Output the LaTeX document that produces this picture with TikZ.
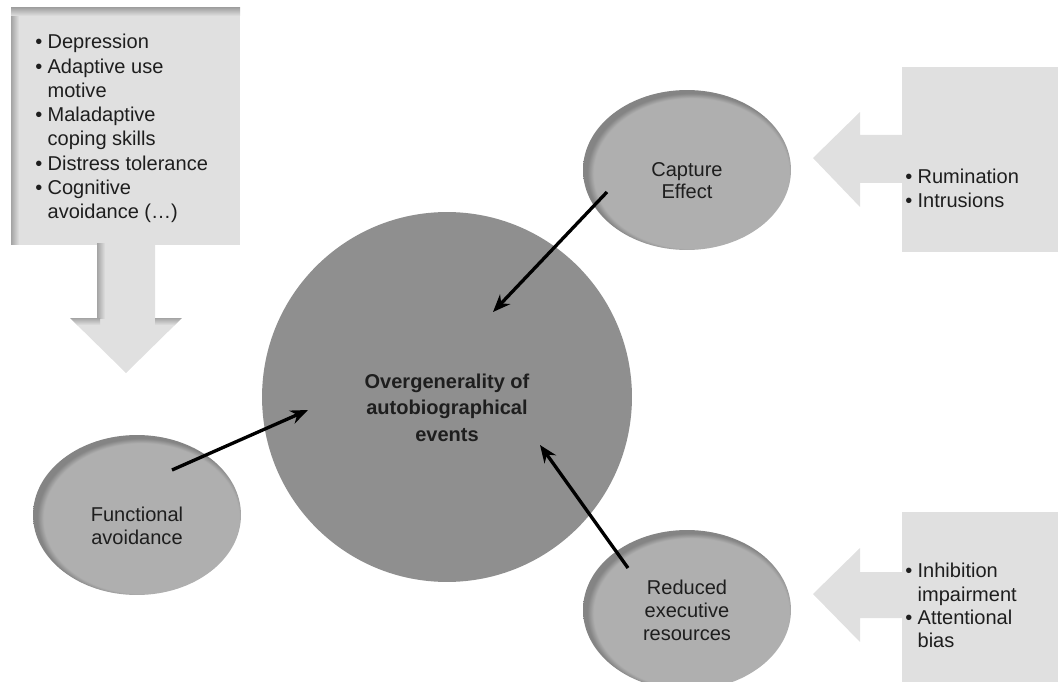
\documentclass[tikz,border=0pt]{standalone}
\usepackage{fontspec}
\setmainfont{Liberation Sans}
\usetikzlibrary{arrows.meta,calc,shapes.geometric}
\definecolor{ovalfill}{HTML}{AFAFAF}
\definecolor{ovalrim}{HTML}{848484}
\definecolor{corefill}{HTML}{8F8F8F}
\definecolor{blockfill}{HTML}{E0E0E0}
\definecolor{blockshade}{HTML}{A4A4A4}
\definecolor{txtgray}{HTML}{1E1E1E}
\pgfdeclareradialshading{rimshade}{\pgfpoint{2bp}{-2bp}}{color(0bp)=(ovalfill); color(23.5bp)=(ovalfill); color(25bp)=(ovalrim); color(50bp)=(ovalrim)}
\newcommand{\blt}{\makebox[7pt][l]{\textbullet}}
\newcommand{\ind}{\hspace*{7pt}}
\tikzset{
  oval/.style={ellipse, shade, shading=rimshade, minimum width=4.16cm, minimum height=3.2cm, inner sep=0pt},
  core/.style={circle, fill=corefill, minimum size=7.4cm, inner sep=0pt},
  ovaltext/.style={align=center, text=txtgray, font=\fontsize{11.4}{13}\selectfont},
  blist/.style={anchor=north west, inner sep=0pt, align=left, text=txtgray},
  block/.style={fill=blockfill},
  conn/.style={-{Stealth[length=10pt,width=8pt]}, line width=1.9pt}
}
\begin{document}
\begin{tikzpicture}[x=0.02cm, y=-0.02cm]
\useasboundingbox (0,0) rectangle (1058,682);
% left block and down arrow
\fill[block] (11,8) rectangle (240,245);
\shade[left color=blockshade, right color=blockfill] (11,8) rectangle (19,245);
\shade[top color=blockshade, bottom color=blockfill] (11,8) rectangle (240,16);
\fill[block] (97,244) -- (155,244) -- (155,318) -- (182,318) -- (126,373) -- (70,318) -- (97,318) -- cycle;
\shade[left color=blockshade, right color=blockfill] (97,244) rectangle (105,318);
\begin{scope}
\clip (70,318) -- (182,318) -- (126,373) -- cycle;
\shade[top color=blockshade, bottom color=blockfill] (70,318) rectangle (100,325);
\shade[top color=blockshade, bottom color=blockfill] (155,318) rectangle (182,325);
\end{scope}
\node[blist, font=\fontsize{11.4}{13.8}\selectfont] (causes) at (35,34)
  {\blt Depression\\ \blt Adaptive use\\ \ind motive\\ \blt Maladaptive\\ \ind coping skills\\
   \blt Distress tolerance\\ \blt Cognitive\\ \ind avoidance (\dots)};
% right blocks with arrows
\fill[block] (902,67) rectangle (1058,252);
\fill[block] (902,135) -- (860,135) -- (860,112) -- (813,158) -- (860,207) -- (860,183) -- (902,183) -- cycle;
\node[blist, font=\fontsize{11.4}{13.6}\selectfont] (capture-list) at (905,169)
  {\blt Rumination\\ \blt Intrusions};
\fill[block] (902,512) rectangle (1058,682);
\fill[block] (902,572) -- (860,572) -- (860,548) -- (813,594) -- (860,642) -- (860,618) -- (902,618) -- cycle;
\node[blist, font=\fontsize{11.4}{13.2}\selectfont] (reduced-list) at (905,563)
  {\blt Inhibition\\ \ind impairment\\ \blt Attentional\\ \ind bias};
% circles
\node[core, label={[ovaltext, font=\bfseries\fontsize{11.4}{15}\selectfont, yshift=-6pt]center:Overgenerality of\\autobiographical\\events}] (over) at (447,397) {};
\node[oval, label={[ovaltext, yshift=-6pt]center:Capture\\Effect}] (capture) at (687,170) {};
\node[oval, label={[ovaltext, yshift=-6pt]center:Functional\\avoidance}] (functional) at (137,515) {};
\node[oval, label={[ovaltext]center:Reduced\\executive\\resources}] (reduced) at (687,610) {};
% connectors
\coordinate (capture-tail) at ($(capture)+(-80,22)$);
\coordinate (over-ne) at ($(over)+(46,-85)$);
\coordinate (functional-tail) at ($(functional)+(35,-45)$);
\coordinate (over-w) at ($(over)+(-139,13)$);
\coordinate (reduced-tail) at ($(reduced)+(-59,-42)$);
\coordinate (over-se) at ($(over)+(93,48)$);
\draw[conn] (capture-tail) -- (over-ne);
\draw[conn] (functional-tail) -- (over-w);
\draw[conn] (reduced-tail) -- (over-se);
\end{tikzpicture}
\end{document}
